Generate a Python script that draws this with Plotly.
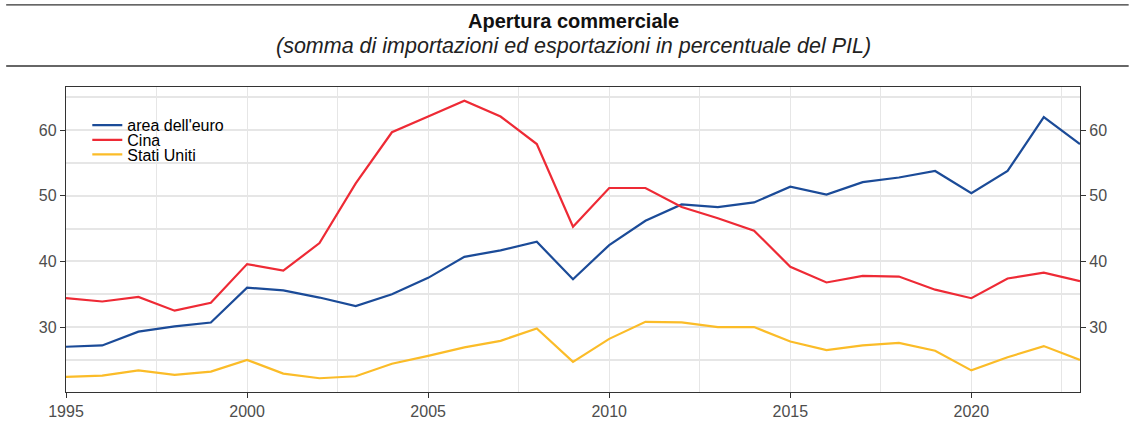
import plotly.graph_objects as go

years = list(range(1995, 2024))

euro_area = [27.0, 27.2, 29.3, 30.1, 30.7, 36.0, 35.6, 34.5, 33.2, 35.0,
             37.5, 40.7, 41.7, 43.0, 37.3, 42.5, 46.2, 48.7, 48.3, 49.0,
             51.4, 50.2, 52.1, 52.8, 53.8, 50.4, 53.8, 62.0, 57.9]
china = [34.4, 33.9, 34.6, 32.5, 33.7, 39.6, 38.6, 42.8, 51.9, 59.7,
         62.1, 64.5, 62.1, 57.9, 45.3, 51.2, 51.2, 48.3, 46.6, 44.7,
         39.2, 36.8, 37.8, 37.7, 35.7, 34.4, 37.4, 38.3, 37.0]
united_states = [22.4, 22.6, 23.4, 22.7, 23.2, 25.0, 22.9, 22.2, 22.5, 24.4,
                 25.6, 26.9, 27.9, 29.8, 24.7, 28.2, 30.8, 30.7, 30.0, 30.0,
                 27.8, 26.5, 27.2, 27.6, 26.4, 23.4, 25.4, 27.1, 25.0]

series_names = ["area dell'euro", "Cina", "Stati Uniti"]
series_colors = ["#1b4b98", "#ee2a35", "#fbbc28"]

y_range = [20.1, 66.6]
x_range = [1995, 2023]

FONT = "Liberation Sans, Arial, sans-serif"

fig = go.Figure()
# each series gets its own legend so the rows can sit as tight as in the original
legend_ids = ["legend", "legend2", "legend3"]
legend_y = [0.875, 0.826, 0.779]
for name, values, color, lg in zip(series_names, [euro_area, china, united_states],
                                   series_colors, legend_ids):
    fig.add_trace(go.Scatter(x=years, y=values, name=name, mode="lines", legend=lg,
                             line=dict(color=color, width=2.2)))

axis_font = dict(family=FONT, size=16, color="#4d4d4d")
grid = "#e6e6e6"

legend_style = dict(x=0.021, xanchor="left", yanchor="middle",
                    font=dict(family=FONT, size=16, color="black"),
                    bgcolor="rgba(0,0,0,0)", itemwidth=30)

fig.update_layout(
    width=1129, height=439,
    margin=dict(l=66, r=49, t=87, b=47),
    paper_bgcolor="white", plot_bgcolor="white",
    font=dict(family=FONT, color="black"),
    showlegend=True,
    legend=dict(y=legend_y[0], **legend_style),
    legend2=dict(y=legend_y[1], **legend_style),
    legend3=dict(y=legend_y[2], **legend_style),
    xaxis=dict(range=x_range, tickvals=[1995, 2000, 2005, 2010, 2015, 2020],
               ticks="outside", ticklen=5, tickcolor="#333", tickfont=axis_font,
               showline=True, linecolor="#333", linewidth=1.3, mirror=True,
               showgrid=True, gridcolor=grid, gridwidth=1,
               minor=dict(dtick=2.5, tick0=1995, showgrid=True, gridcolor=grid, ticks=""),
               zeroline=False),
    yaxis=dict(range=y_range, tickvals=[30, 40, 50, 60], ticks="outside", ticklen=5,
               tickcolor="#333", tickfont=axis_font,
               showline=True, linecolor="#333", linewidth=1.3, mirror=True,
               showgrid=True, gridcolor=grid, gridwidth=1.5,
               minor=dict(dtick=5, tick0=25, showgrid=True, gridcolor=grid, ticks=""),
               zeroline=False),
    yaxis2=dict(range=y_range, overlaying="y", side="right", tickvals=[30, 40, 50, 60],
                ticks="outside", ticklen=5, tickcolor="#333", tickfont=axis_font,
                showline=True, linecolor="#333", linewidth=1.3, showgrid=False,
                zeroline=False),
)

# invisible trace so the right axis is drawn
fig.add_trace(go.Scatter(x=[years[0]], y=[euro_area[0]], yaxis="y2", mode="lines",
                         showlegend=False, hoverinfo="skip", line=dict(width=0)))

fig.add_annotation(text="<b>Apertura commerciale</b>", xref="paper", yref="paper",
                   x=0.5, y=1.216, xanchor="center", yanchor="middle", showarrow=False,
                   font=dict(family=FONT, size=20, color="#111"))
fig.add_annotation(text="<i>(somma di importazioni ed esportazioni in percentuale del PIL)</i>",
                   xref="paper", yref="paper", x=0.5, y=1.134, xanchor="center",
                   yanchor="middle", showarrow=False, font=dict(family=FONT, size=21.5, color="#222"))

for y, w in [(1.269, 1.2), (1.069, 1.6)]:
    fig.add_shape(type="line", xref="paper", yref="paper", x0=-0.059, x1=1.048,
                  y0=y, y1=y, line=dict(color="#333", width=w))

fig.write_html("out.html", config={"displayModeBar": False},
               post_script="document.body.style.margin='0';")
